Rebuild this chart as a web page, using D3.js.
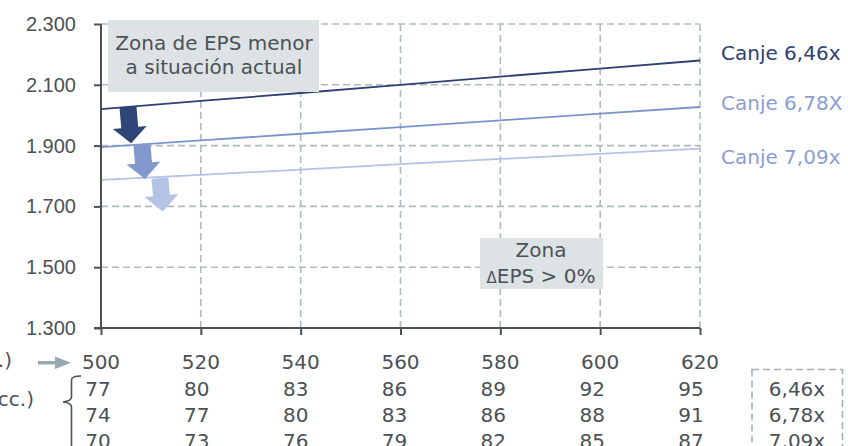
<!DOCTYPE html>
<html>
<head>
  <meta charset="utf-8">
  <title>EPS por canje</title>
  <script src="https://cdn.jsdelivr.net/npm/d3@7"></script>
  <style>
    html, body { margin: 0; padding: 0; background: #fff; }
    svg { display: block; font-family: "DejaVu Sans", sans-serif; }
    .tick-label, .celda, .nota { fill: #4b5157; font-size: 20px; }
  </style>
</head>
<body>
<svg id="chart" width="848" height="446"></svg>
<script>
  // datos
  var precios = [500, 520, 540, 560, 580, 600, 620];
  var yTicks = [1300, 1500, 1700, 1900, 2100, 2300];
  var canjes = ['Canje 6,46x', 'Canje 6,78X', 'Canje 7,09x'];
  var eps646 = [2020, 2047, 2073, 2100, 2127, 2153, 2180];
  var eps678 = [1895, 1917, 1939, 1961, 1983, 2005, 2027];
  var eps709 = [1787, 1804, 1821, 1839, 1856, 1873, 1890];
  var fila646 = [77, 80, 83, 86, 89, 92, 95];
  var fila678 = [74, 77, 80, 83, 86, 88, 91];
  var fila709 = [70, 73, 76, 79, 82, 85, 87];
  var ratios = ['6,46x', '6,78x', '7,09x'];
  var flechaX = [505.4, 508.2, 511.8];
  var flechaDesde = [2027, 1902, 1793];
  var flechaHasta = [1907, 1790, 1683];

  var series = [eps646, eps678, eps709];
  var filas = [fila646, fila678, fila709];
  var lineColors = ['#2d4172', '#7d93cc', '#b4c2e4'];
  var labelColors = ['#2d4172', '#8a9ed3', '#8a9ed3'];
  var legendDy = [0, 3, 15];
  var gridColor = '#aebcc0';
  var axisColor = '#4b5157';

  var svg = d3.select('#chart');

  var x = d3.scaleLinear().domain([500, 620]).range([101, 700]);
  var y = d3.scaleLinear().domain([1300, 2300]).range([328, 24]);
  var tableX = d3.scaleLinear().domain([500, 620]).range([98, 691]);

  var fmt = d3.formatLocale({decimal: ',', thousands: '.', grouping: [3], currency: ['', '']}).format(',');

  // grid
  var grid = svg.append('g').attr('class', 'grid')
      .attr('stroke', gridColor)
      .attr('stroke-width', 1.6)
      .attr('stroke-dasharray', '7,4');
  grid.selectAll('line.h')
      .data(yTicks.slice(1))
    .enter().append('line').attr('class', 'h')
      .attr('x1', x(500)).attr('x2', x(620))
      .attr('y1', function(d) { return y(d); })
      .attr('y2', function(d) { return y(d); });
  grid.selectAll('line.v')
      .data(precios.slice(1))
    .enter().append('line').attr('class', 'v')
      .attr('x1', function(d) { return x(d); })
      .attr('x2', function(d) { return x(d); })
      .attr('y1', y(2300)).attr('y2', y(1300));

  // lines
  var line = d3.line()
      .x(function(d, i) { return x(precios[i]); })
      .y(function(d) { return y(d); });
  svg.selectAll('path.serie')
      .data(series)
    .enter().append('path').attr('class', 'serie')
      .attr('fill', 'none')
      .attr('stroke', function(d, i) { return lineColors[i]; })
      .attr('stroke-width', 1.8)
      .attr('d', line);

  // arrows
  svg.selectAll('path.flecha')
      .data(flechaX)
    .enter().append('path').attr('class', 'flecha')
      .attr('fill', function(d, i) { return i === 0 ? '#2f4577' : (i === 1 ? '#8399cd' : '#b5c3e5'); })
      .attr('transform', function(d, i) {
        return 'translate(' + x(d) + ',' + y(flechaDesde[i]) + ') rotate(-5)';
      })
      .attr('d', function(d, i) {
        var L = y(flechaHasta[i]) - y(flechaDesde[i]), h = 16, s = 8.5, w = 17;
        return 'M' + (-s) + ',0L' + s + ',0L' + s + ',' + (L - h) + 'L' + w + ',' + (L - h) +
          'L0,' + L + 'L' + (-w) + ',' + (L - h) + 'L' + (-s) + ',' + (L - h) + 'Z';
      });

  // axes
  var yAxis = svg.append('g')
      .attr('transform', 'translate(' + x(500) + ',0)')
      .call(d3.axisLeft(y).tickValues(yTicks).tickSize(7).tickPadding(18).tickFormat(fmt));
  var xAxis = svg.append('g')
      .attr('transform', 'translate(0,' + y(1300) + ')')
      .call(d3.axisBottom(x).tickValues(precios).tickSize(7).tickFormat(''));
  [yAxis, xAxis].forEach(function(a) {
    a.selectAll('path, line').attr('stroke', axisColor).attr('stroke-width', 2);
    a.select('.domain').attr('d', a === yAxis ? 'M0,' + y(2300) + 'V' + y(1300) : 'M' + (x(500) - 7) + ',0H' + x(620));
  });
  yAxis.selectAll('text')
      .attr('class', 'tick-label')
      .attr('font-family', null)
      .attr('font-size', null)
      .attr('fill', null);

  // x labels
  svg.selectAll('text.xlab')
      .data(precios)
    .enter().append('text').attr('class', 'tick-label xlab')
      .attr('x', function(d) { return x(d); })
      .attr('y', 369)
      .attr('text-anchor', 'middle')
      .text(function(d) { return d; });

  // legend labels
  svg.selectAll('text.leyenda')
      .data(canjes)
    .enter().append('text').attr('class', 'leyenda')
      .attr('x', 721)
      .attr('y', function(d, i) { return y(series[i][series[i].length - 1]) + legendDy[i]; })
      .attr('font-size', 20)
      .attr('fill', function(d, i) { return labelColors[i]; })
      .text(function(d) { return d; });

  // annotation boxes
  var box1 = svg.append('g');
  box1.append('rect').attr('x', 108).attr('y', 20).attr('width', 211).attr('height', 72).attr('fill', '#dde3e5');
  box1.append('text').attr('class', 'nota').attr('x', 214).attr('y', 50).attr('text-anchor', 'middle').text('Zona de EPS menor');
  box1.append('text').attr('class', 'nota').attr('x', 214).attr('y', 74).attr('text-anchor', 'middle').text('a situación actual');

  var box2 = svg.append('g');
  box2.append('rect').attr('x', 480).attr('y', 238).attr('width', 123).attr('height', 51).attr('fill', '#dde3e5');
  box2.append('text').attr('class', 'nota').attr('x', 541).attr('y', 257).attr('text-anchor', 'middle').text('Zona');
  var t2 = box2.append('text').attr('class', 'nota').attr('x', 541).attr('y', 283).attr('text-anchor', 'middle');
  t2.append('tspan').attr('font-size', 15).text('Δ');
  t2.append('tspan').text('EPS > 0%');

  // table below
  svg.append('text').attr('class', 'nota').attr('x', 12).attr('y', 367).attr('text-anchor', 'end').text('.)');
  svg.append('text').attr('class', 'nota').attr('x', 34).attr('y', 406).attr('text-anchor', 'end').text('cc.)');
  svg.append('path')
      .attr('fill', '#98a8b3')
      .attr('d', 'M38,361L55,361L55,356.5L71,362.7L55,369L55,364.5L38,364.5Z');
  svg.append('path')
      .attr('fill', 'none').attr('stroke', axisColor).attr('stroke-width', 1.6)
      .attr('d', 'M81,376Q71.5,376 71.5,380L71.5,397Q71.5,401 63,402Q71.5,403 71.5,407L71.5,450');

  filas.forEach(function(fila, r) {
    svg.selectAll('text.fila' + r)
        .data(fila)
      .enter().append('text').attr('class', 'celda fila' + r)
        .attr('x', function(d, i) { return tableX(precios[i]); })
        .attr('y', 396 + r * 26)
        .attr('text-anchor', 'middle')
        .text(function(d) { return d; });
  });

  svg.append('rect')
      .attr('x', 752).attr('y', 369.5).attr('width', 90.5).attr('height', 100)
      .attr('fill', 'none').attr('stroke', '#a2b2bb').attr('stroke-width', 1.6).attr('stroke-dasharray', '7,4');
  svg.selectAll('text.ratio')
      .data(ratios)
    .enter().append('text').attr('class', 'celda ratio')
      .attr('x', 797).attr('y', function(d, i) { return 396 + i * 26; })
      .attr('text-anchor', 'middle')
      .text(function(d) { return d; });
</script>
</body>
</html>
